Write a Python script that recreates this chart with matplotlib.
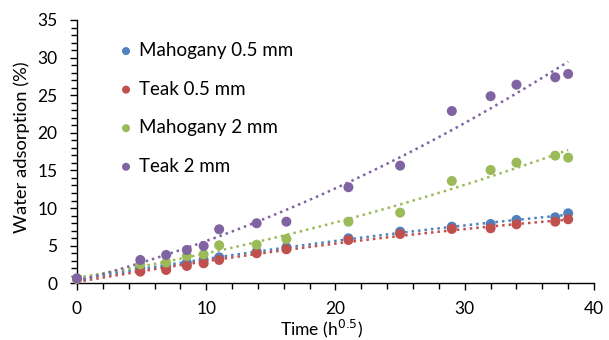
import numpy as np
import matplotlib
matplotlib.use("Agg")
import matplotlib.pyplot as plt
from matplotlib.ticker import MultipleLocator

plt.rcParams['font.family'] = ['Lato', 'DejaVu Sans']

# sqrt(time) values, h^0.5
time_sqrt = [0, 4.9, 6.9, 8.5, 9.8, 11.0, 13.9, 16.2, 21.0, 25.0, 29.0, 32.0, 34.0, 37.0, 38.0]

mahogany_05 = [0.6, 2.0, 2.3, 2.75, 3.1, 3.45, 4.2, 4.78, 5.98, 6.87, 7.53, 7.88, 8.42, 8.77, 9.3]
teak_05 = [0.6, 1.55, 1.77, 2.3, 2.66, 3.1, 3.99, 4.52, 5.76, 6.55, 7.22, 7.31, 7.84, 8.19, 8.51]
mahogany_2 = [0.6, 2.52, 2.75, 3.63, 3.85, 5.05, 5.13, 5.89, 8.19, 9.39, 13.6, 15.06, 16.04, 16.97, 16.7]
teak_2 = [0.66, 3.1, 3.77, 4.43, 4.96, 7.18, 7.98, 8.19, 12.77, 15.64, 22.9, 24.87, 26.4, 27.38, 27.83]

series = {
    "Mahogany 0.5 mm": {"data": mahogany_05, "color": "#4F81BD"},
    "Teak 0.5 mm": {"data": teak_05, "color": "#C0504D"},
    "Mahogany 2 mm": {"data": mahogany_2, "color": "#9BBB59"},
    "Teak 2 mm": {"data": teak_2, "color": "#8064A2"},
}


def fit_length(txt, target_px, vertical=False):
    """Scale a text's font size so it spans target_px pixels."""
    renderer = txt.figure.canvas.get_renderer()
    bb = txt.get_window_extent(renderer)
    length = bb.height if vertical else bb.width
    txt.set_fontsize(txt.get_fontsize() * target_px / length)


fig = plt.figure(figsize=(6.09, 3.40), dpi=100)
ax = fig.add_axes([0.1264, 0.1668, 0.8490, 0.7744])

x = np.array(time_sqrt)
xs = np.linspace(0, 38, 200)

# trendlines first (2nd order polynomial, like Excel)
for name, var in series.items():
    y = np.array(var["data"])
    coef = np.polyfit(x, y, 2)
    ax.plot(xs, np.polyval(coef, xs), color=var["color"],
            linestyle=(0, (1, 1.6)), linewidth=1.8, zorder=2)

for name, var in series.items():
    ax.scatter(x, var["data"], s=52, color=var["color"], label=name,
               edgecolors='none', zorder=3, clip_on=False)

ax.set_xlim(0, 40)
ax.set_ylim(0, 35)
ax.xaxis.set_major_locator(MultipleLocator(10))
ax.xaxis.set_minor_locator(MultipleLocator(2))
ax.yaxis.set_major_locator(MultipleLocator(5))
ax.yaxis.set_minor_locator(MultipleLocator(1))

for side in ["top", "right"]:
    ax.spines[side].set_visible(False)
for side in ["left", "bottom"]:
    ax.spines[side].set_color("black")
    ax.spines[side].set_linewidth(1.0)

ax.tick_params(which="major", direction="out", length=5, width=1.0,
               labelsize=12.5, colors="black")
ax.tick_params(which="minor", direction="out", length=4, width=1.0)
ax.tick_params(axis="y", which="major", pad=9)
ax.tick_params(axis="x", which="major", pad=8)

xl = ax.set_xlabel("Time (h$^{0.5}$)", fontsize=12, va="bottom")
yl = ax.set_ylabel("Water adsorption (%)", fontsize=12)
fit_length(xl, 83)
fit_length(yl, 171, vertical=True)
ax.xaxis.set_label_coords(0.474, -0.2135)
ax.yaxis.set_label_coords(-0.091, 0.518)

leg = fig.legend(loc="upper left", bbox_to_anchor=(118.8 / 609, 1 - 42 / 340),
                 frameon=False, fontsize=13.5, handletextpad=0.3,
                 labelspacing=1.15, scatterpoints=1, markerscale=0.8,
                 handlelength=0.77, borderpad=0, borderaxespad=0)

fig.savefig("out.png", dpi=100)
